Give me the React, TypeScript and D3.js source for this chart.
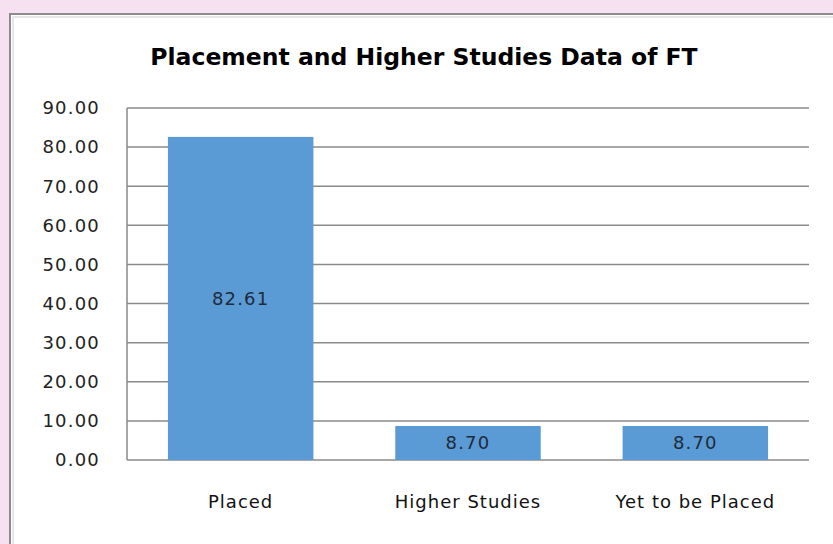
import React from 'react';
import { scaleLinear, scaleBand, range } from 'd3';

// values
const categories = ['Placed', 'Higher Studies', 'Yet to be Placed'];
const percentages = [82.61, 8.7, 8.7];
const yTicks = range(0, 91, 10);
const chartTitle = 'Placement and Higher Studies Data of FT';

const W = 833;
const H = 544;
const margin = { top: 108, right: 24, bottom: 84, left: 127 };

const App = () => {
	const innerW = W - margin.left - margin.right;
	const innerH = H - margin.top - margin.bottom;

	const x = scaleBand<string>()
		.domain(categories)
		.range([0, innerW])
		.paddingInner(0.36)
		.paddingOuter(0.18);

	const y = scaleLinear().domain([0, 90]).range([innerH, 0]);

	const font = '"DejaVu Sans", Verdana, sans-serif';

	return (
		<svg
			width={W}
			height={H}
			style={{ position: 'fixed', left: 0, top: 0, display: 'block' }}
		>
			<rect x={0} y={0} width={W} height={H} fill="#f6e1f1" />
			<rect x={10} y={14} width={W} height={H} fill="#ffffff" stroke="#8c8c8c" strokeWidth={2} />
			<rect x={13} y={17} width={W} height={H} fill="none" stroke="#d0d0d0" strokeWidth={1} />

			<text
				x={424}
				y={65}
				textAnchor="middle"
				fontFamily={font}
				fontWeight="bold"
				fontSize={23.5}
				fill="#000"
			>
				{chartTitle}
			</text>

			<g transform={'translate(' + margin.left + ',' + margin.top + ')'}>
				{yTicks.map((t) => (
					<g key={t}>
						<line
							x1={0}
							x2={innerW}
							y1={y(t)}
							y2={y(t)}
							stroke="#8a8a8a"
							strokeWidth={1.5}
						/>
						<text
							x={-27}
							y={y(t)}
							dy="0.35em"
							textAnchor="end"
							fontFamily={font}
							fontSize={18}
							letterSpacing={1.2}
							fill="#222"
						>
							{t.toFixed(2)}
						</text>
					</g>
				))}
				<line x1={0} x2={0} y1={0} y2={innerH} stroke="#8a8a8a" strokeWidth={1.5} />

				{categories.map((c, i) => {
					const v = percentages[i];
					const bx = x(c) as number;
					return (
						<g key={c}>
							<rect
								x={bx}
								y={y(v)}
								width={x.bandwidth()}
								height={innerH - y(v)}
								fill="#5b9bd5"
							/>
							<text
								x={bx + x.bandwidth() / 2}
								y={(y(v) + innerH) / 2}
								dy="0.35em"
								textAnchor="middle"
								fontFamily={font}
								fontSize={18}
								letterSpacing={1.2}
								fill="#1f2a3a"
							>
								{v.toFixed(2)}
							</text>
							<text
								x={bx + x.bandwidth() / 2}
								y={innerH + 42}
								dy="0.35em"
								textAnchor="middle"
								fontFamily={font}
								fontSize={18}
								letterSpacing={1}
								fill="#111"
							>
								{c}
							</text>
						</g>
					);
				})}
			</g>
		</svg>
	);
};

export default App;
